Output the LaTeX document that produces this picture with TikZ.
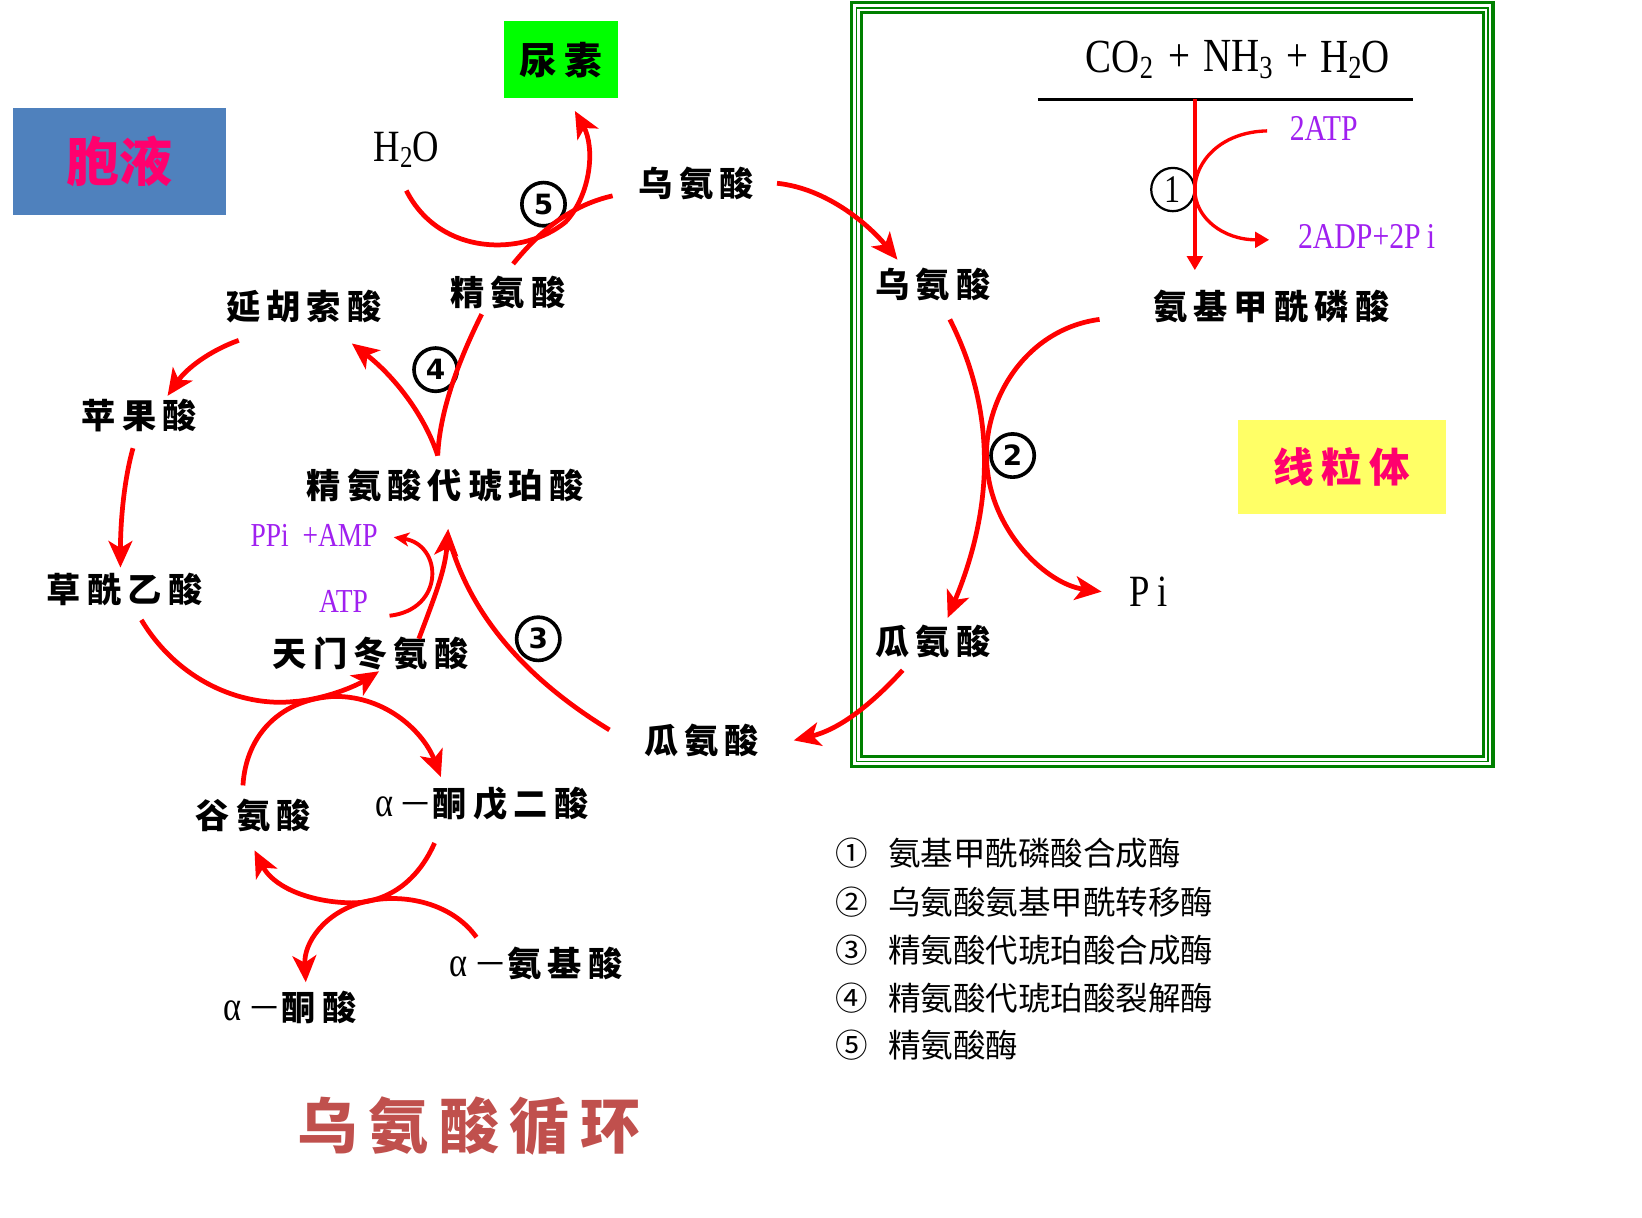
\documentclass[tikz,border=0pt]{standalone}
\usepackage{fontspec}
\usetikzlibrary{arrows.meta}
\newfontfamily\cjk{Noto Sans CJK SC}
\newfontfamily\cjkl[LetterSpace=18]{Noto Sans CJK SC}
\newfontfamily\ser[FakeStretch=0.82]{Liberation Serif}
\newfontfamily\dvs{DejaVu Sans}
\definecolor{redc}{RGB}{255,0,0}
\definecolor{ppl}{RGB}{160,32,240}
\definecolor{boxblue}{RGB}{79,129,189}
\definecolor{pinkc}{RGB}{255,0,110}
\definecolor{frameg}{RGB}{0,128,0}
\definecolor{titlec}{RGB}{192,80,77}
\definecolor{ylw}{RGB}{255,255,102}
\definecolor{grn}{RGB}{0,255,0}
\newcommand\subs[1]{\raisebox{-0.3ex}{\scalebox{0.68}{#1}}}
\newcommand\alm{{\mdseries\ser\fontsize{30}{30}\selectfont α}\kern4pt{\mdseries\cjk －}}
\tikzset{
  lab/.style={font=\cjkl\bfseries\fontsize{24.5}{27}\selectfont, inner sep=0pt, text=black},
  rline/.style={draw=redc, line width=3.4pt},
  arr/.style={-{Stealth[length=19pt,width=17pt,inset=5pt]}},
  sarr/.style={-{Stealth[length=11pt,width=10pt,inset=3pt]}},
  tarr/.style={-{Triangle[length=10pt,width=11pt]}},
  num/.style={circle, draw=black, line width=2.6pt, minimum size=31pt, inner sep=0pt,
    font=\dvs\bfseries\fontsize{20}{20}\selectfont},
  purp/.style={text=ppl, inner sep=0pt},
  leg/.style={anchor=west, inner sep=0pt, font=\cjk\fontsize{23.3}{26}\selectfont},
  lat/.style={inner sep=0pt, font=\ser\fontsize{32}{34}\selectfont}
}
\begin{document}
\begin{tikzpicture}[x=0.75pt,y=-0.75pt]
\useasboundingbox (0,0) rectangle (1568,1163);
\fill[white] (0,0) rectangle (1568,1163);

% ---------- boxes ----------
\node[fill=boxblue, minimum width=153pt, minimum height=76.5pt, inner sep=0pt,
  font=\cjk\bfseries\fontsize{38}{40}\selectfont, text=pinkc] (cyto) at (114,154) {胞液};
\node[fill=grn, minimum width=82pt, minimum height=55.5pt, inner sep=0pt,
  font=\cjkl\bfseries\fontsize{27}{29}\selectfont] (urea) at (535.5,57) {尿素};
\node[fill=ylw, minimum width=149pt, minimum height=67.5pt, inner sep=0pt,
  font=\cjkl\bfseries\fontsize{29}{31}\selectfont, text=pinkc] (mito) at (1281.5,446) {线粒体};

% ---------- mitochondrion frame ----------
\draw[frameg, line width=2.6pt] (813,2.5) rectangle (1426,732);
\draw[frameg, line width=1.1pt] (818,7.5) rectangle (1421,727);
\draw[frameg, line width=1.9pt] (822.5,12) rectangle (1416.5,722.5);

% ---------- labels ----------
\node[lab] (ornO) at (665,175) {乌氨酸};
\node[lab] (arg) at (485,279) {精氨酸};
\node[lab] (fum) at (290,293) {延胡索酸};
\node[lab] (mal) at (133,397) {苹果酸};
\node[lab] (as) at (425,464) {精氨酸代琥珀酸};
\node[lab] (oaa) at (119,563) {草酰乙酸};
\node[lab] (asp) at (354,624) {天门冬氨酸};
\node[lab] (citO) at (670,707) {瓜氨酸};
\node[lab] (glu) at (242,779) {谷氨酸};
\node[lab] (akg) at (460,768) {\alm 酮戊二酸};
\node[lab] (aaa) at (512,920) {\alm 氨基酸};
\node[lab] (aka) at (277,962) {\alm 酮酸};
\node[lab] (ornI) at (891,272) {乌氨酸};
\node[lab] (cp) at (1214,293) {氨基甲酰磷酸};
\node[lab] (citI) at (891,613) {瓜氨酸};

\node[lat] (h2o) at (388,143) {H\subs{2}O};
\node[lat] (pi) at (1097,565) {P\,i};
\node[lat, font=\ser\fontsize{34}{36}\selectfont] (co2) at (1069,57) {CO\subs{2}};
\node[lat, font=\ser\fontsize{34}{36}\selectfont] (pl1) at (1126,55) {+};
\node[lat, font=\ser\fontsize{34}{36}\selectfont] (nh3) at (1182,57) {NH\subs{3}};
\node[lat, font=\ser\fontsize{34}{36}\selectfont] (pl2) at (1239,55) {+};
\node[lat, font=\ser\fontsize{34}{36}\selectfont] (h2ob) at (1294,57) {H\subs{2}O};

\node[purp, font=\ser\fontsize{26}{28}\selectfont] (atp2) at (1264,123) {2ATP};
\node[purp, font=\ser\fontsize{26}{28}\selectfont] (adp) at (1305,226) {2ADP+2P\,i};
\node[purp, font=\ser\fontsize{24}{26}\selectfont] (ppi) at (300,511) {PPi\ \ +AMP};
\node[purp, font=\ser\fontsize{24}{26}\selectfont] (atp) at (328,574) {ATP};

% ---------- enzyme circles ----------
\node[num, line width=1.6pt, font=\ser\fontsize{28}{28}\selectfont] (e1) at (1120,181) {1};
\node[num] (e2) at (967,435) {2};
\node[num] (e3) at (514,610) {3};
\node[num] (e4) at (416,353) {4};
\node[num] (e5) at (519,195) {5};

% ---------- reaction 1 ----------
\coordinate (barL) at (991,95);
\coordinate (barR) at (1349,95);
\draw[black, line width=1.5pt] (barL) -- (barR);
\coordinate (v1a) at (1141,95);
\coordinate (v1b) at (1141,258);
\draw[redc, line width=2.4pt, tarr] (v1a) -- (v1b);
\coordinate (a1s) at (1210,125);
\coordinate (a1m) at (1141,181);
\coordinate (a1e) at (1212,229);
\draw[redc, line width=2.4pt, tarr] (a1s) .. controls (1165,126) and (1141,155) .. (a1m)
  .. controls (1141,208) and (1168,229) .. (a1e);

% ---------- reaction 2 ----------
\coordinate (r2a) at (907,305);
\coordinate (r2b) at (905,590);
\draw[rline, arr] (r2a) .. controls (945,380) and (955,470) .. (r2b);
\coordinate (r2c) at (1050,305);
\coordinate (r2m) at (943,450);
\coordinate (r2d) at (1052,565);
\draw[rline, arr] (r2c) .. controls (975,315) and (935,390) .. (r2m)
  .. controls (950,510) and (1000,558) .. (r2d);

% ---------- transport ----------
\coordinate (t1a) at (742,175);
\coordinate (t1b) at (857,248);
\draw[rline, arr] (t1a) .. controls (790,180) and (830,215) .. (t1b);
\coordinate (t2a) at (862,640);
\coordinate (t2b) at (758,707);
\draw[rline, arr] (t2a) .. controls (830,675) and (800,697) .. (t2b);

% ---------- reaction 3 ----------
\coordinate (r3a) at (582,697);
\coordinate (r3t) at (428,505);
\coordinate (r3b) at (400,610);
\draw[rline] (r3a) .. controls (505,650) and (450,590) .. (429,515);
\draw[rline, arr] (r3b) .. controls (415,570) and (425,545) .. (r3t);
\coordinate (atpa) at (372,588);
\coordinate (atpb) at (376,513);
\draw[redc, line width=2.8pt, sarr] (atpa) .. controls (425,582) and (423,520) .. (atpb);

% ---------- reaction 4 ----------
\coordinate (r4a) at (418,435);
\coordinate (r4b) at (460,300);
\coordinate (r4c) at (336,328);
\draw[rline] (r4a) .. controls (420,390) and (440,340) .. (r4b);
\draw[rline, arr] (r4a) .. controls (405,395) and (375,358) .. (r4c);

% ---------- reaction 5 ----------
\coordinate (r5a) at (490,252);
\coordinate (r5b) at (585,187);
\draw[rline] (r5a) .. controls (520,215) and (550,195) .. (r5b);
\coordinate (r5c) at (388,182);
\coordinate (r5m) at (540,212);
\coordinate (r5d) at (549,106);
\draw[rline, arr] (r5c) .. controls (420,245) and (500,245) .. (r5m)
  .. controls (565,185) and (568,140) .. (r5d);

% ---------- fumarate -> malate -> OAA -> Asp ----------
\coordinate (f1a) at (228,325);
\coordinate (f1b) at (160,378);
\draw[rline, arr] (f1a) .. controls (200,335) and (178,352) .. (f1b);
\coordinate (m1a) at (127,428);
\coordinate (m1b) at (115,542);
\draw[rline, arr] (m1a) .. controls (118,460) and (115,500) .. (m1b);
\coordinate (o1a) at (135,592);
\coordinate (o1m) at (280,670);
\coordinate (o1b) at (362,641);
\draw[rline, arr] (o1a) .. controls (170,650) and (230,675) .. (o1m)
  .. controls (310,668) and (340,655) .. (o1b);

% ---------- transamination ----------
\coordinate (g1a) at (232,750);
\coordinate (g1m) at (320,665);
\coordinate (g1b) at (421,742);
\draw[rline, arr] (g1a) .. controls (235,700) and (270,667) .. (g1m)
  .. controls (370,665) and (405,700) .. (g1b);
\coordinate (k1a) at (415,805);
\coordinate (k1m) at (330,862);
\coordinate (k1b) at (243,812);
\draw[rline, arr] (k1a) .. controls (395,850) and (360,864) .. (k1m)
  .. controls (290,860) and (260,845) .. (k1b);
\coordinate (n1a) at (455,895);
\coordinate (n1m) at (345,862);
\coordinate (n1b) at (292,938);
\draw[rline, arr] (n1a) .. controls (430,860) and (380,852) .. (n1m)
  .. controls (310,872) and (290,900) .. (n1b);

% ---------- legend ----------
\node[leg] (l1) at (798,815) {①\hspace{0.6em}氨基甲酰磷酸合成酶};
\node[leg] (l2) at (798,861) {②\hspace{0.6em}乌氨酸氨基甲酰转移酶};
\node[leg] (l3) at (798,907) {③\hspace{0.6em}精氨酸代琥珀酸合成酶};
\node[leg] (l4) at (798,953) {④\hspace{0.6em}精氨酸代琥珀酸裂解酶};
\node[leg] (l5) at (798,998) {⑤\hspace{0.6em}精氨酸酶};

% ---------- title ----------
\node[inner sep=0pt, text=titlec, font=\cjkl\bfseries\fontsize{43}{46}\selectfont] (title) at (448,1075) {乌氨酸循环};
\end{tikzpicture}
\end{document}
